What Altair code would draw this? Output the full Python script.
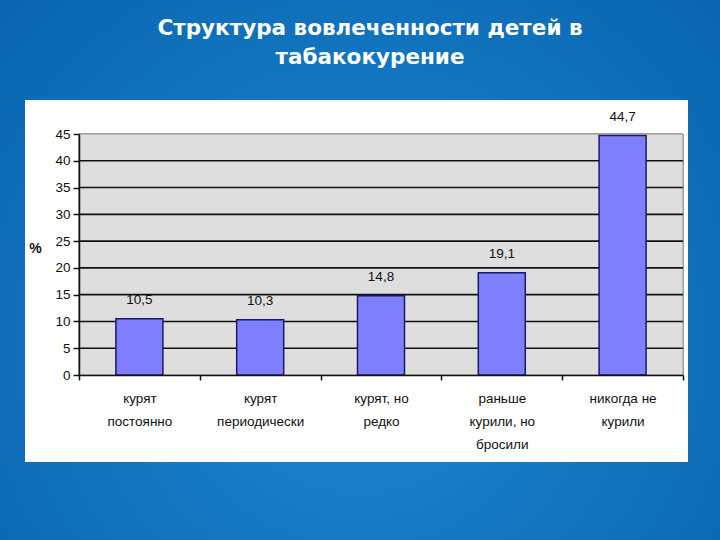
import altair as alt
import pandas as pd

categories = ["курят|постоянно", "курят|периодически", "курят, но|редко",
              "раньше|курили, но|бросили", "никогда не|курили"]
values = [10.5, 10.3, 14.8, 19.1, 44.7]
y_ticks = [0, 5, 10, 15, 20, 25, 30, 35, 40, 45]
grid_values = [5, 10, 15, 20, 25, 30, 35, 40]
title_lines = ["Структура вовлеченности детей в", "табакокурение"]

df = pd.DataFrame({"cat": categories, "value": values})
grid_df = pd.DataFrame({"g": grid_values})

W, H = 604, 241
FONT = "Liberation Sans, Arial"

xaxis = alt.Axis(title=None, labelExpr="split(datum.label, '|')",
                 labelAngle=0, labelFont=FONT, labelFontSize=13.5,
                 labelColor="#111111", labelLineHeight=23,
                 labelPadding=11, tickBand="extent",
                 domainColor="#111111", domainWidth=1.5,
                 tickColor="#111111", tickWidth=1.5, tickSize=5,
                 zindex=1)
yscale = alt.Scale(domain=[0, 45], nice=False)
yaxis = alt.Axis(values=y_ticks, grid=False, title="%", titleAngle=0,
                 titleX=-44, titleY=114, titleAlign="center",
                 titleBaseline="middle", titleFont=FONT, titleFontSize=14,
                 titleFontWeight="bold", titleColor="#111111",
                 labelFont=FONT, labelFontSize=13.5, labelColor="#111111",
                 labelPadding=3, domainColor="#111111", domainWidth=1.5,
                 tickColor="#111111", tickWidth=1.5, tickSize=6, zindex=1)

xenc = alt.X("cat:N", sort=categories,
             scale=alt.Scale(paddingInner=0, paddingOuter=0), axis=xaxis)

bg = alt.Chart(df).mark_rect(
    color=alt.RadialGradient(gradient="radial",
                             stops=[alt.GradientStop(offset=0, color="#1C88D4"),
                                    alt.GradientStop(offset=1, color="#0862AC")],
                             x1=0.5, y1=0.6, r1=0, x2=0.5, y2=0.6, r2=0.75)
).encode(x=alt.value(-79), x2=alt.value(641), y=alt.value(-134), y2=alt.value(406))

box = alt.Chart(df).mark_rect(color="white").encode(
    x=alt.value(-54), x2=alt.value(609), y=alt.value(-34), y2=alt.value(328))

plotbg = alt.Chart(df).mark_rect(color="#DEDEDE", stroke="#9A9A9A", strokeWidth=1).encode(
    x=alt.value(0), x2=alt.value(W), y=alt.value(0), y2=alt.value(H))

grid = alt.Chart(grid_df).mark_rule(color="#111111", strokeWidth=1.6).encode(
    y=alt.Y("g:Q", scale=yscale, axis=yaxis))

bars = alt.Chart(df).mark_bar(size=47, color="#7F7FFF", stroke="#1A1A60",
                              strokeWidth=1.5).encode(
    x=xenc, y=alt.Y("value:Q", scale=yscale, axis=yaxis))

labels = alt.Chart(df).transform_calculate(
    lab="replace(format(datum.value, '.1f'), '.', ',')"
).mark_text(dy=-12, baseline="bottom", font=FONT, fontSize=13.5, color="#111111").encode(
    x=alt.X("cat:N", sort=categories, axis=xaxis),
    y=alt.Y("value:Q", scale=yscale, axis=yaxis), text="lab:N")

chart = alt.layer(bg, box, plotbg, grid, bars, labels).properties(
    width=W, height=H,
    padding={"left": 79, "top": 134, "right": 37, "bottom": 165},
    autosize=alt.AutoSizeParams(type="none"),
    title=alt.TitleParams(text=title_lines, color="white", font="DejaVu Sans",
                          fontSize=21.5, fontWeight="bold", lineHeight=29,
                          anchor="middle", dx=-11, offset=-68),
).configure(background="#0B68B2").configure_view(stroke=None)

chart.save("out.html", embed_options={"renderer": "svg", "actions": False})
